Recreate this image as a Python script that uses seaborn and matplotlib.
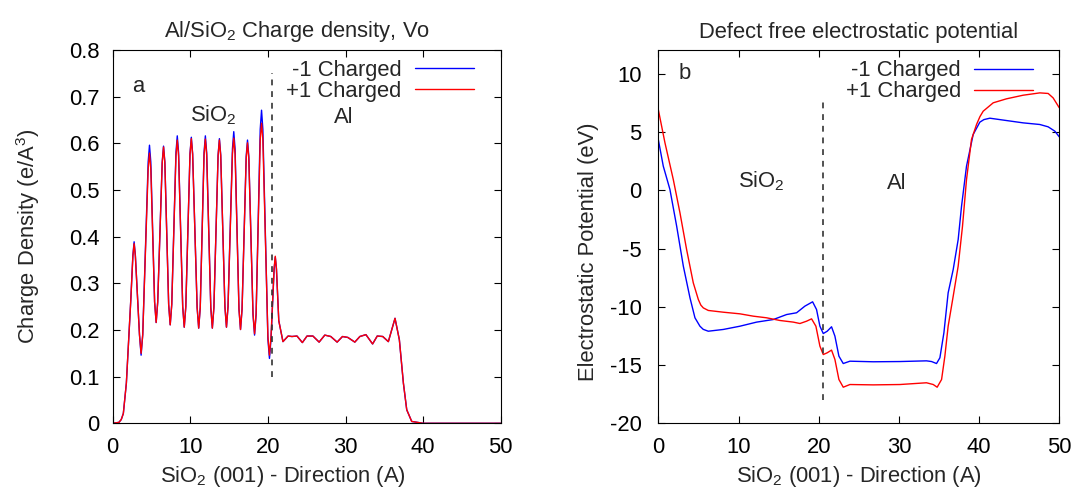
import numpy as np
import pandas as pd
import matplotlib
matplotlib.use("Agg")
import matplotlib.pyplot as plt
import seaborn as sns

# ---------------- data ----------------
series_names = ["-1 Charged", "+1 Charged"]
series_colors = ["#0000ff", "#ff0000"]

# Panel a: charge density
x_a = [0.0, 0.8, 1.1, 1.37, 1.76, 2.33, 2.6, 2.76, 2.92, 3.45, 3.66, 3.87,
       4.57, 4.74, 4.91, 5.4, 5.6, 5.8,
       6.38, 6.55, 6.72, 7.21, 7.41, 7.61,
       8.15, 8.32, 8.49, 9.02, 9.22, 9.42,
       9.96, 10.13, 10.30, 10.88, 11.08, 11.28,
       11.77, 11.94, 12.11, 12.64, 12.84, 13.04,
       13.58, 13.75, 13.92, 14.46, 14.66, 14.86,
       15.43, 15.6, 15.77, 16.27, 16.47, 16.67,
       17.2, 17.37, 17.54, 18.08, 18.28, 18.48,
       19.01, 19.18, 19.35, 20.0, 20.2, 20.4,
       20.8, 20.95, 21.1, 21.4, 21.94, 22.6,
       23.1, 23.75, 24.44, 25.04, 25.8, 26.6, 27.33, 28.1, 28.92, 29.61, 30.3, 31.2,
       31.85, 32.63, 33.49, 34.09, 34.8, 35.52, 35.95, 36.38, 36.94, 37.46, 37.89, 38.53,
       40.0, 45.0, 50.0]
rho_minus = [0.0, 0.002, 0.008, 0.021, 0.086, 0.264, 0.36, 0.389, 0.36, 0.19, 0.146, 0.19,
             0.56, 0.596, 0.56, 0.26, 0.216, 0.26,
             0.56, 0.594, 0.56, 0.255, 0.211, 0.255,
             0.58, 0.616, 0.58, 0.25, 0.206, 0.25,
             0.578, 0.613, 0.578, 0.248, 0.204, 0.248,
             0.58, 0.616, 0.58, 0.248, 0.204, 0.248,
             0.575, 0.610, 0.575, 0.25, 0.206, 0.25,
             0.588, 0.625, 0.588, 0.245, 0.201, 0.245,
             0.572, 0.607, 0.572, 0.233, 0.189, 0.233,
             0.63, 0.671, 0.63, 0.18, 0.139, 0.18,
             0.33, 0.356, 0.33, 0.22, 0.175, 0.187,
             0.186, 0.187, 0.173, 0.187, 0.187, 0.174, 0.189, 0.186, 0.174, 0.186, 0.184, 0.174,
             0.186, 0.190, 0.170, 0.187, 0.186, 0.175, 0.2, 0.225, 0.179, 0.086, 0.029, 0.004,
             0.0, 0.0, 0.0]
rho_plus = [0.0, 0.002, 0.008, 0.021, 0.086, 0.264, 0.358, 0.385, 0.358, 0.19, 0.15, 0.19,
            0.545, 0.579, 0.545, 0.26, 0.216, 0.26,
            0.558, 0.592, 0.558, 0.255, 0.211, 0.255,
            0.573, 0.607, 0.573, 0.25, 0.206, 0.25,
            0.576, 0.610, 0.576, 0.248, 0.204, 0.248,
            0.575, 0.609, 0.575, 0.248, 0.204, 0.248,
            0.573, 0.607, 0.573, 0.25, 0.206, 0.25,
            0.577, 0.611, 0.577, 0.245, 0.201, 0.245,
            0.567, 0.601, 0.567, 0.235, 0.192, 0.235,
            0.608, 0.643, 0.608, 0.186, 0.146, 0.186,
            0.332, 0.358, 0.332, 0.22, 0.175, 0.187,
            0.186, 0.187, 0.173, 0.187, 0.187, 0.174, 0.189, 0.186, 0.174, 0.186, 0.184, 0.174,
            0.186, 0.190, 0.170, 0.187, 0.186, 0.175, 0.2, 0.225, 0.179, 0.086, 0.029, 0.004,
            0.0, 0.0, 0.0]

# Panel b: electrostatic potential
x_b_minus = [0.0, 0.62, 1.45, 2.29, 3.12, 3.95, 4.57, 5.19, 5.6, 6.23, 8.1, 10.18, 12.26, 14.33,
             16.0, 17.24, 18.28, 19.24, 19.73, 20.15, 20.57, 21.06, 21.6, 22.02, 22.52, 23.06,
             23.89, 26.8, 30.12, 33.44, 34.07, 34.69, 35.11, 35.61, 36.14, 36.77, 37.39, 37.81,
             38.43, 39.26, 40.09, 40.6, 41.34, 43.41, 45.49, 47.57, 48.61, 49.44, 50.0]
v_minus = [4.34, 2.06, 0.06, -3.09, -6.51, -9.23, -10.94, -11.66, -11.93, -12.09, -11.94, -11.66, -11.31, -11.09,
           -10.66, -10.51, -9.94, -9.57, -10.23, -11.66, -12.29, -12.09, -11.71, -12.51, -14.23, -14.86,
           -14.66, -14.71, -14.69, -14.63, -14.69, -14.86, -14.37, -12.23, -8.8, -6.8, -4.23, -1.37,
           2.06, 4.77, 5.83, 6.05, 6.17, 5.97, 5.77, 5.63, 5.43, 5.06, 4.57]
x_b_plus = [0.0, 0.83, 1.87, 2.7, 3.53, 4.36, 4.99, 5.3, 5.61, 6.23, 8.1, 10.18, 11.84, 13.5, 15.16,
            16.83, 17.66, 18.49, 19.11, 19.65, 20.15, 20.57, 21.06, 21.6, 22.02, 22.52, 23.06,
            23.89, 26.8, 30.12, 33.44, 34.28, 34.77, 35.32, 35.73, 36.14, 36.77, 37.39, 37.93,
            38.43, 39.05, 39.68, 40.1, 40.51, 41.76, 43.41, 45.49, 47.57, 48.61, 49.23, 50.0]
v_plus = [6.91, 4.06, 0.91, -1.94, -5.09, -7.94, -9.37, -9.85, -10.09, -10.31, -10.46, -10.6, -10.8, -10.94, -11.17,
          -11.31, -11.43, -11.23, -11.03, -11.66, -13.37, -14.09, -13.94, -13.71, -14.51, -16.23, -16.89,
          -16.66, -16.69, -16.66, -16.51, -16.66, -16.89, -16.23, -14.23, -11.66, -9.09, -6.51, -3.09,
          0.91, 4.34, 5.63, 6.3, 6.77, 7.49, 7.83, 8.14, 8.34, 8.29, 7.91, 7.06]

x_ticks = [0, 10, 20, 30, 40, 50]
x_ticklabels = ["0", "10", "20", "30", "40", "50"]
ya_ticks = [0.0, 0.1, 0.2, 0.3, 0.4, 0.5, 0.6, 0.7, 0.8]
ya_ticklabels = ["0", "0.1", "0.2", "0.3", "0.4", "0.5", "0.6", "0.7", "0.8"]
yb_ticks = [-20, -15, -10, -5, 0, 5, 10]
yb_ticklabels = ["-20", "-15", "-10", "-5", "0", "5", "10"]

interface_x = 20.5

# ---------------- style ----------------
sns.set_style("ticks")
plt.rcParams["font.family"] = ["Liberation Sans", "DejaVu Sans"]
plt.rcParams["mathtext.fontset"] = "custom"
plt.rcParams["mathtext.rm"] = "Liberation Sans"
plt.rcParams["mathtext.it"] = "Liberation Sans"
plt.rcParams["mathtext.bf"] = "Liberation Sans"
plt.rcParams["mathtext.default"] = "regular"
plt.rcParams["axes.unicode_minus"] = False

FS = 15.8

fig = plt.figure(figsize=(10.78, 4.91), dpi=100)
ax_a = fig.add_axes([0.10455, 0.13788, 0.35993, 0.76029])
ax_b = fig.add_axes([0.61067, 0.13750, 0.37199, 0.76029])

palette = dict(zip(series_names, series_colors))

df_a = pd.concat([
    pd.DataFrame({"x": x_a, "y": rho_minus, "series": series_names[0]}),
    pd.DataFrame({"x": x_a, "y": rho_plus, "series": series_names[1]}),
])
df_b = pd.concat([
    pd.DataFrame({"x": x_b_minus, "y": v_minus, "series": series_names[0]}),
    pd.DataFrame({"x": x_b_plus, "y": v_plus, "series": series_names[1]}),
])

for ax, df in [(ax_a, df_a), (ax_b, df_b)]:
    sns.lineplot(data=df, x="x", y="y", hue="series", hue_order=series_names,
                 palette=palette, estimator=None, sort=False, linewidth=1.0, ax=ax)

def style_axes(ax, yticks, yticklabels, ylim, ypad):
    ax.set_xlim(0, 50)
    ax.set_ylim(*ylim)
    ax.set_xticks(x_ticks)
    ax.set_xticklabels(x_ticklabels)
    ax.set_yticks(yticks)
    ax.set_yticklabels(yticklabels)
    ax.tick_params(axis="both", direction="in", top=True, right=True, length=5,
                   width=0.8, colors="black", labelsize=FS)
    ax.tick_params(axis="x", pad=10)
    ax.tick_params(axis="y", pad=ypad)
    for s in ax.spines.values():
        s.set_visible(True)
        s.set_linewidth(0.8)
        s.set_color("black")

style_axes(ax_a, ya_ticks, ya_ticklabels, (0, 0.8), 9.5)
style_axes(ax_b, yb_ticks, yb_ticklabels, (-20, 12), 12)

# dashed interface lines
ax_a.plot([interface_x, interface_x], [0.1, 0.75], color="#333333", lw=1.2, ls=(0, (3.5, 3.5)))
ax_b.plot([interface_x, interface_x], [-18, 8], color="#333333", lw=1.2, ls=(0, (3.5, 3.5)))

# labels
ax_a.set_title("Al/SiO$_2$ Charge density, Vo", fontsize=FS, pad=9, x=0.475)
ax_b.set_title("Defect free electrostatic potential", fontsize=FS, pad=9)
ax_a.set_xlabel("SiO$_2$ (001) - Direction (A)", fontsize=FS, x=0.4376, labelpad=4)
ax_b.set_xlabel("SiO$_2$ (001) - Direction (A)", fontsize=FS, labelpad=4)
ax_a.set_ylabel("Charge Density (e/A$^3$)", fontsize=FS, labelpad=19)
ax_b.set_ylabel("Electrostatic Potential (eV)", fontsize=FS, labelpad=8, y=0.46)

# annotations
ax_a.text(3.28, 0.711, "a", fontsize=FS, ha="center", va="baseline")
ax_a.text(10.0, 0.648, "SiO$_2$", fontsize=FS, ha="left", va="baseline")
ax_a.text(28.49, 0.644, "Al", fontsize=FS, ha="left", va="baseline")
ax_b.text(3.28, 9.49, "b", fontsize=FS, ha="center", va="baseline")
ax_b.text(9.97, 0.2, "SiO$_2$", fontsize=FS, ha="left", va="baseline")
ax_b.text(28.54, 0.11, "Al", fontsize=FS, ha="left", va="baseline")

# legends (gnuplot style: text then line sample)
for ax, xr in [(ax_a, 0.931), (ax_b, 0.935)]:
    h, l = ax.get_legend_handles_labels()
    ax.legend(h, l, loc="upper right", bbox_to_anchor=(xr, 0.973), markerfirst=False,
              frameon=False, fontsize=FS, handlelength=2.7, handletextpad=0.6,
              labelspacing=0.0, borderaxespad=0, borderpad=0)

fig.savefig("out.png", dpi=100)
